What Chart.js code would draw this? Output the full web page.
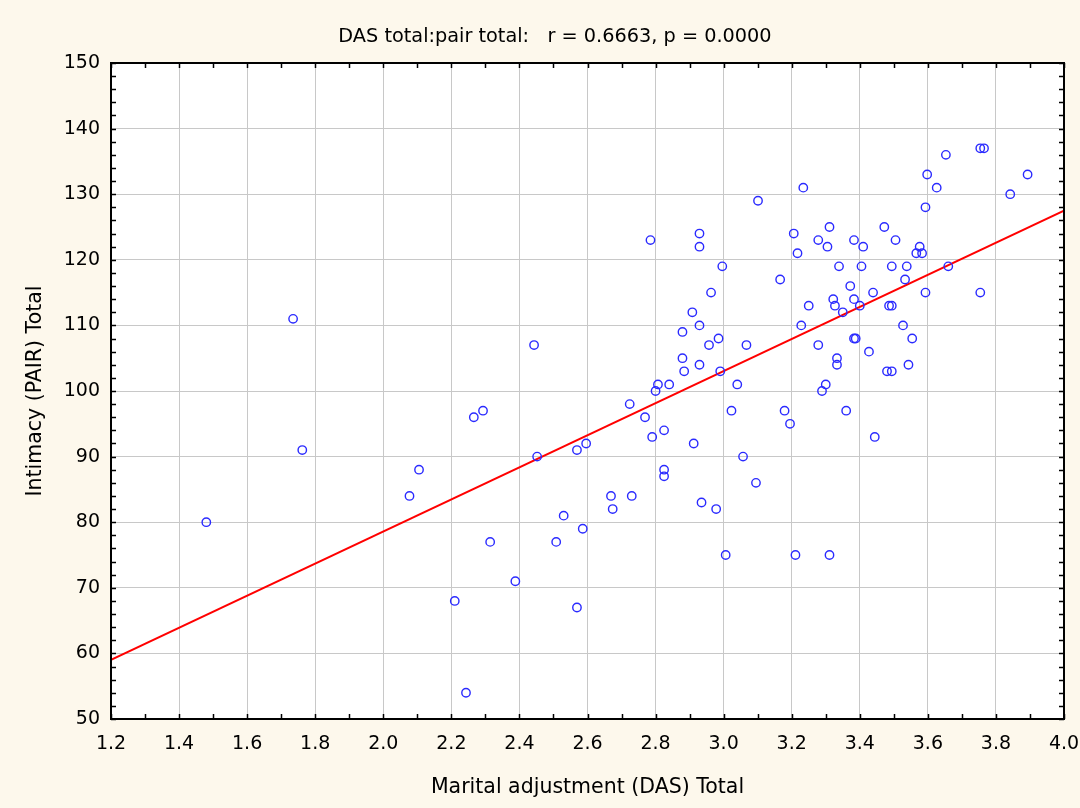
<!DOCTYPE html>
<html>
<head>
<meta charset="utf-8">
<script src="https://cdn.jsdelivr.net/npm/chart.js@4.4.1/dist/chart.umd.min.js"></script>
<style>
  html, body { margin: 0; padding: 0; background: #fdf8ec; }
  #wrap { width: 1080px; height: 808px; position: relative; }
</style>
</head>
<body>
<div id="wrap"><canvas id="c" width="1080" height="808"></canvas></div>
<script>
// ---- Data ----
const chartTitle = "DAS total:pair total:   r = 0.6663, p = 0.0000";
const xAxisTitle = "Marital adjustment (DAS) Total";
const yAxisTitle = "Intimacy (PAIR) Total";

const dasTotal = [
  1.48, 1.735, 1.762, 2.077, 2.105, 2.21, 2.243, 2.266, 2.293, 2.314,
  2.388, 2.443, 2.452, 2.508, 2.53, 2.569, 2.569, 2.586, 2.596, 2.669,
  2.674, 2.724, 2.73, 2.769, 2.785, 2.79, 2.80, 2.807, 2.825, 2.825,
  2.825, 2.84, 2.879, 2.879, 2.884, 2.908, 2.912, 2.929, 2.929, 2.929,
  2.929, 2.935, 2.957, 2.963, 2.978, 2.985, 2.99, 2.996, 3.006, 3.023,
  3.04, 3.057, 3.067, 3.095, 3.101, 3.166, 3.179, 3.195, 3.206, 3.211,
  3.217, 3.228, 3.234, 3.25, 3.278, 3.278, 3.289, 3.30, 3.305, 3.311,
  3.311, 3.322, 3.327, 3.333, 3.333, 3.339, 3.35, 3.36, 3.372, 3.383,
  3.383, 3.383, 3.388, 3.40, 3.405, 3.41, 3.427, 3.439, 3.444, 3.472,
  3.48, 3.486, 3.494, 3.494, 3.494, 3.505, 3.527, 3.533, 3.538, 3.543,
  3.554, 3.566, 3.576, 3.583, 3.593, 3.593, 3.598, 3.626, 3.653, 3.66,
  3.754, 3.765, 3.754, 3.842, 3.893
];
const pairTotal = [
  80, 111, 91, 84, 88, 68, 54, 96, 97, 77,
  71, 107, 90, 77, 81, 91, 67, 79, 92, 84,
  82, 98, 84, 96, 123, 93, 100, 101, 94, 88,
  87, 101, 109, 105, 103, 112, 92, 124, 122, 110,
  104, 83, 107, 115, 82, 108, 103, 119, 75, 97,
  101, 90, 107, 86, 129, 117, 97, 95, 124, 75,
  121, 110, 131, 113, 123, 107, 100, 101, 122, 125,
  75, 114, 113, 105, 104, 119, 112, 97, 116, 123,
  114, 108, 108, 113, 119, 122, 106, 115, 93, 125,
  103, 113, 113, 119, 103, 123, 110, 117, 119, 104,
  108, 121, 122, 121, 115, 128, 133, 131, 136, 119,
  137, 137, 115, 130, 133
];
// regression line end points
const fitX = [1.2, 4.0];
const fitY = [59.0, 127.5];
// axis ranges / ticks
const xRange = [1.2, 4.0];
const xStep = 0.2;
const yRange = [50, 150];
const yStep = 10;

const scatterPts = dasTotal.map((x, i) => ({ x: x, y: pairTotal[i] }));
const fitPts = fitX.map((x, i) => ({ x: x, y: fitY[i] }));

const FONT = '"DejaVu Sans", "Liberation Sans", Arial, sans-serif';

const framePlugin = {
  id: 'frame',
  beforeDraw(chart) {
    const ctx = chart.ctx;
    ctx.save();
    ctx.fillStyle = '#fdf8ec';
    ctx.fillRect(0, 0, chart.width, chart.height);
    const a = chart.chartArea;
    ctx.fillStyle = '#ffffff';
    ctx.fillRect(a.left, a.top, a.right - a.left, a.bottom - a.top);
    ctx.restore();
  },
  afterDraw(chart) {
    const ctx = chart.ctx;
    const a = chart.chartArea;
    const xs = chart.scales.x, ys = chart.scales.y;
    ctx.save();
    ctx.strokeStyle = '#000';
    ctx.lineWidth = 2;
    ctx.strokeRect(a.left, a.top, a.right - a.left, a.bottom - a.top);
    ctx.lineWidth = 1.5;
    ctx.beginPath();
    for (let k = 0; k <= 28; k++) {
      const v = xRange[0] + k * 0.1;
      const px = Math.round(xs.getPixelForValue(v)) + 0.5;
      const len = 5;
      ctx.moveTo(px, a.bottom); ctx.lineTo(px, a.bottom - len);
      ctx.moveTo(px, a.top); ctx.lineTo(px, a.top + len);
    }
    for (let v = yRange[0]; v <= yRange[1]; v += 2) {
      const py = Math.round(ys.getPixelForValue(v)) + 0.5;
      const len = 5;
      ctx.moveTo(a.left, py); ctx.lineTo(a.left + len, py);
      ctx.moveTo(a.right, py); ctx.lineTo(a.right - len, py);
    }
    ctx.stroke();
    ctx.fillStyle = '#000';
    ctx.font = '19.3px ' + FONT;
    ctx.textAlign = 'center';
    ctx.textBaseline = 'middle';
    ctx.fillText(chartTitle, 555, 37);
    ctx.restore();
  }
};

new Chart(document.getElementById('c'), {
  type: 'scatter',
  data: {
    datasets: [
      {
        label: 'fit',
        type: 'line',
        data: fitPts,
        borderColor: '#ff0000',
        borderWidth: 2,
        pointRadius: 0,
        fill: false,
        tension: 0,
        order: 2
      },
      {
        label: 'data',
        data: scatterPts,
        pointStyle: 'circle',
        pointRadius: 4.2,
        pointHoverRadius: 4.2,
        borderWidth: 1.4,
        borderColor: '#2a2aff',
        backgroundColor: 'rgba(0,0,0,0)',
        order: 1
      }
    ]
  },
  options: {
    responsive: false,
    animation: false,
    devicePixelRatio: 1,
    layout: { padding: { top: 63, right: 16, left: 0, bottom: 0 } },
    plugins: {
      legend: { display: false },
      tooltip: { enabled: false },
      title: { display: false }
    },
    scales: {
      x: {
        type: 'linear',
        min: xRange[0],
        max: xRange[1],
        afterFit(scale) {
          scale.height = 808 - 719;
          scale.paddingLeft = 0;
          scale.paddingRight = 0;
        },
        ticks: {
          stepSize: xStep,
          color: '#000',
          font: { family: FONT, size: 19 },
          padding: 14,
          maxRotation: 0,
          autoSkip: false,
          callback: (v) => Number(v).toFixed(1)
        },
        grid: { color: '#c8c8c8', lineWidth: 1, drawTicks: false },
        border: { display: false },
        title: {
          display: true,
          text: xAxisTitle,
          color: '#000',
          font: { family: FONT, size: 20.5 },
          padding: { top: 0, bottom: 8 }
        }
      },
      y: {
        type: 'linear',
        min: yRange[0],
        max: yRange[1],
        afterFit(scale) {
          scale.width = 111;
          scale.paddingTop = 0;
          scale.paddingBottom = 0;
        },
        ticks: {
          stepSize: yStep,
          color: '#000',
          font: { family: FONT, size: 19 },
          padding: 11
        },
        grid: { color: '#c8c8c8', lineWidth: 1, drawTicks: false },
        border: { display: false },
        title: {
          display: true,
          text: yAxisTitle,
          color: '#000',
          font: { family: FONT, size: 20.5 },
          padding: { top: 23, bottom: 0 }
        }
      }
    }
  },
  plugins: [framePlugin]
});
</script>
</body>
</html>
